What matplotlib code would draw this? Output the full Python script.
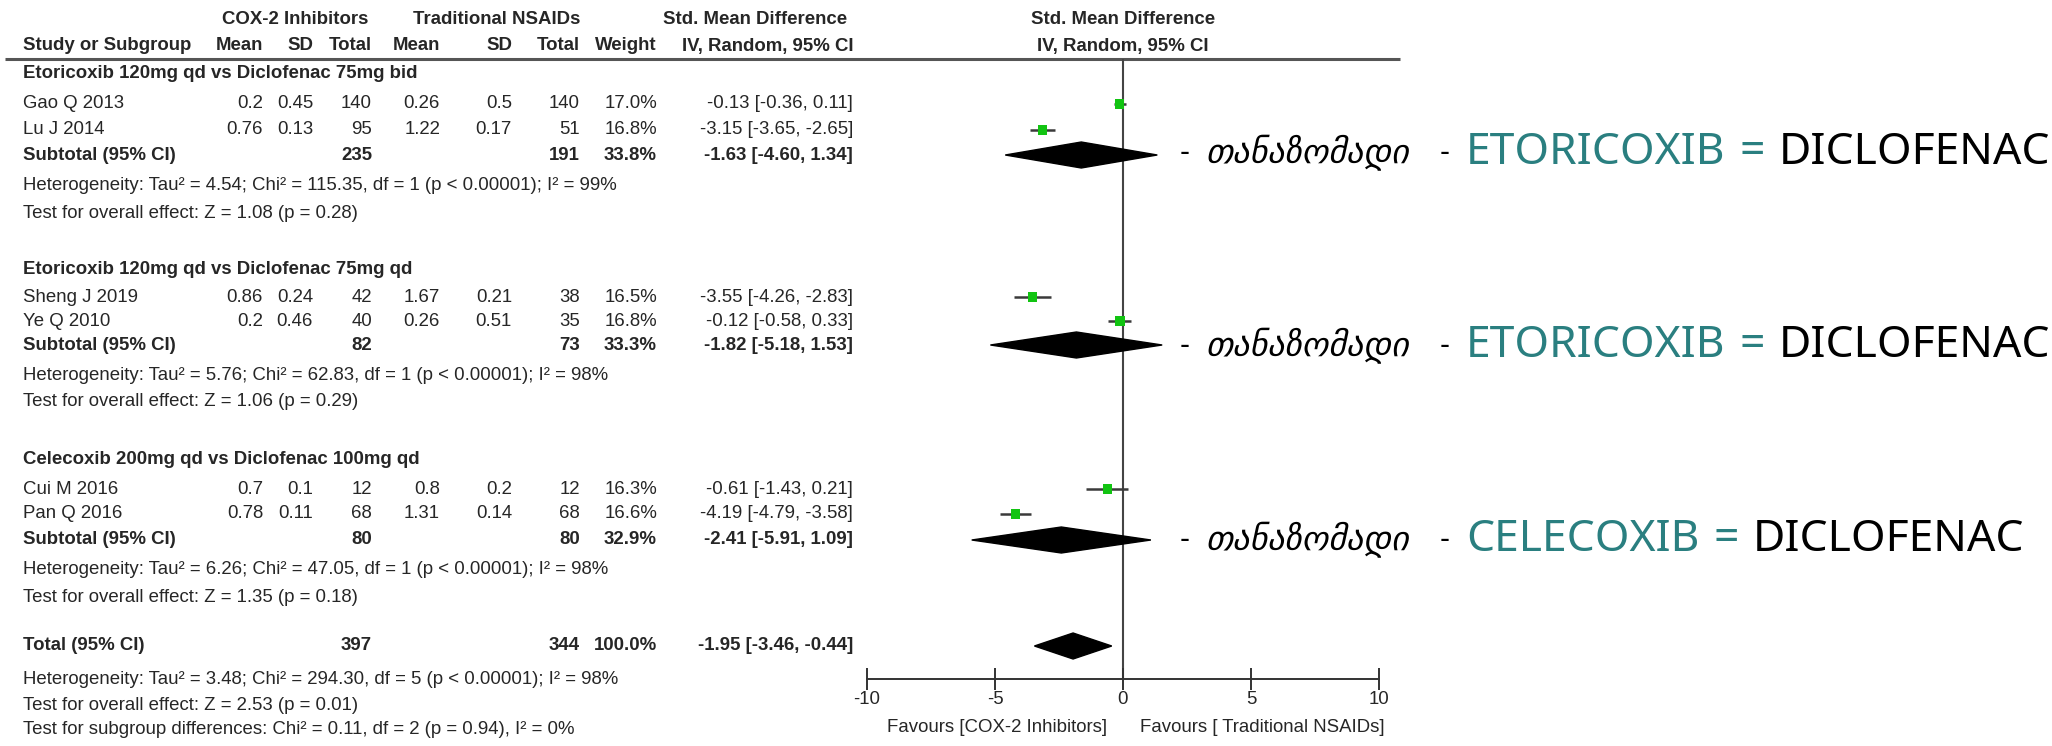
import matplotlib
matplotlib.use("Agg")
import matplotlib.pyplot as plt
from matplotlib import font_manager as fm
from matplotlib.patches import Polygon

# ---------------- data ----------------
study_names = ["Gao Q 2013", "Lu J 2014", "Sheng J 2019", "Ye Q 2010", "Cui M 2016", "Pan Q 2016"]
study_group = [0, 0, 1, 1, 2, 2]
cox_mean = ["0.2", "0.76", "0.86", "0.2", "0.7", "0.78"]
cox_sd = ["0.45", "0.13", "0.24", "0.46", "0.1", "0.11"]
cox_n = [140, 95, 42, 40, 12, 68]
trad_mean = ["0.26", "1.22", "1.67", "0.26", "0.8", "1.31"]
trad_sd = ["0.5", "0.17", "0.21", "0.51", "0.2", "0.14"]
trad_n = [140, 51, 38, 35, 12, 68]
weights = [17.0, 16.8, 16.5, 16.8, 16.3, 16.6]
smd = [-0.13, -3.15, -3.55, -0.12, -0.61, -4.19]
ci_lo = [-0.36, -3.65, -4.26, -0.58, -1.43, -4.79]
ci_hi = [0.11, -2.65, -2.83, 0.33, 0.21, -3.58]

subgroups = ["Etoricoxib 120mg qd vs Diclofenac 75mg bid",
             "Etoricoxib 120mg qd vs Diclofenac 75mg qd",
             "Celecoxib 200mg qd vs Diclofenac 100mg qd"]
sub_cox_n = [235, 82, 80]
sub_trad_n = [191, 73, 80]
sub_weight = [33.8, 33.3, 32.9]
sub_smd = [-1.63, -1.82, -2.41]
sub_lo = [-4.60, -5.18, -5.91]
sub_hi = [1.34, 1.53, 1.09]
sub_het = ["Heterogeneity: Tau\u00b2 = 4.54; Chi\u00b2 = 115.35, df = 1 (p < 0.00001); I\u00b2 = 99%",
           "Heterogeneity: Tau\u00b2 = 5.76; Chi\u00b2 = 62.83, df = 1 (p < 0.00001); I\u00b2 = 98%",
           "Heterogeneity: Tau\u00b2 = 6.26; Chi\u00b2 = 47.05, df = 1 (p < 0.00001); I\u00b2 = 98%"]
sub_test = ["Test for overall effect: Z = 1.08 (p = 0.28)",
            "Test for overall effect: Z = 1.06 (p = 0.29)",
            "Test for overall effect: Z = 1.35 (p = 0.18)"]

total_cox_n = 397
total_trad_n = 344
total_weight = 100.0
total_smd = -1.95
total_lo = -3.46
total_hi = -0.44
total_notes = ["Heterogeneity: Tau\u00b2 = 3.48; Chi\u00b2 = 294.30, df = 5 (p < 0.00001); I\u00b2 = 98%",
               "Test for overall effect: Z = 2.53 (p = 0.01)",
               "Test for subgroup differences: Chi\u00b2 = 0.11, df = 2 (p = 0.94), I\u00b2 = 0%"]

x_ticks = [-10, -5, 0, 5, 10]
favours = ["Favours [COX-2 Inhibitors]", "Favours [ Traditional NSAIDs]"]

annot_word = "\u10d7\u10d0\u10dc\u10d0\u10d6\u10dd\u10db\u10d0\u10d3\u10d8"  # თანაზომადი
annot_drug = ["ETORICOXIB", "ETORICOXIB", "CELECOXIB"]
annot_comp = ["DICLOFENAC", "DICLOFENAC", "DICLOFENAC"]

# ---------------- layout (pixel units) ----------------
W, H = 2052, 746
fig = plt.figure(figsize=(W / 100, H / 100), dpi=100)
fig.patch.set_facecolor("white")

avail = {f.name for f in fm.fontManager.ttflist}
TF = ["Liberation Sans Narrow", "Liberation Sans", "DejaVu Sans"]
TF = [f for f in TF if f in avail] or ["DejaVu Sans"]
FS = 13.4
TC = "#262626"

tab = fig.add_axes([0, 0, 1, 1])
tab.set_xlim(0, W)
tab.set_ylim(H, 0)
tab.axis("off")

def T(x, y, s, ha="left", bold=False, size=FS, color=TC):
    tab.text(x, y, s, ha=ha, va="center", family=TF, size=size,
             weight="bold" if bold else "normal", color=color)

# column right edges
cx = dict(cm=263, csd=313, cn=372, tm=440, tsd=512, tn=580, w=657, ci=853)
LEFT = 23

# rows
y_head1, y_head2, y_line = 20, 46, 59
grp_y = [73, 269, 460]
study_y = [104, 130, 297, 321, 489, 514]
sub_y = [155, 345, 540]
het_y = [186, 375, 569]
test_y = [214, 402, 597]
total_y = 646
total_note_y = [679, 705, 730]
axis_y = 679

# headers
T(295, y_head1, "COX-2 Inhibitors", ha="center", bold=True)
T(497, y_head1, "Traditional NSAIDs", ha="center", bold=True)
T(755, y_head1, "Std. Mean Difference", ha="center", bold=True)
T(1123, y_head1, "Std. Mean Difference", ha="center", bold=True)
T(LEFT, y_head2, "Study or Subgroup", bold=True)
for key, lab in [("cm", "Mean"), ("csd", "SD"), ("cn", "Total"), ("tm", "Mean"),
                 ("tsd", "SD"), ("tn", "Total"), ("w", "Weight")]:
    T(cx[key], y_head2, lab, ha="right", bold=True)
T(cx["ci"], y_head2, "IV, Random, 95% CI", ha="right", bold=True)
T(1123, y_head2, "IV, Random, 95% CI", ha="center", bold=True)
tab.hlines(y_line, 5, 1400, color="#555555", lw=2.2)

# subgroups
for g in range(3):
    T(LEFT, grp_y[g], subgroups[g], bold=True)
    T(LEFT, sub_y[g], "Subtotal (95% CI)", bold=True)
    T(cx["cn"], sub_y[g], str(sub_cox_n[g]), ha="right", bold=True)
    T(cx["tn"], sub_y[g], str(sub_trad_n[g]), ha="right", bold=True)
    T(cx["w"], sub_y[g], f"{sub_weight[g]:.1f}%", ha="right", bold=True)
    T(cx["ci"], sub_y[g], f"{sub_smd[g]:.2f} [{sub_lo[g]:.2f}, {sub_hi[g]:.2f}]", ha="right", bold=True)
    T(LEFT, het_y[g], sub_het[g])
    T(LEFT, test_y[g], sub_test[g])

for i in range(len(study_names)):
    y = study_y[i]
    T(LEFT, y, study_names[i])
    T(cx["cm"], y, cox_mean[i], ha="right")
    T(cx["csd"], y, cox_sd[i], ha="right")
    T(cx["cn"], y, str(cox_n[i]), ha="right")
    T(cx["tm"], y, trad_mean[i], ha="right")
    T(cx["tsd"], y, trad_sd[i], ha="right")
    T(cx["tn"], y, str(trad_n[i]), ha="right")
    T(cx["w"], y, f"{weights[i]:.1f}%", ha="right")
    T(cx["ci"], y, f"{smd[i]:.2f} [{ci_lo[i]:.2f}, {ci_hi[i]:.2f}]", ha="right")

T(LEFT, total_y, "Total (95% CI)", bold=True)
T(cx["cn"], total_y, str(total_cox_n), ha="right", bold=True)
T(cx["tn"], total_y, str(total_trad_n), ha="right", bold=True)
T(cx["w"], total_y, f"{total_weight:.1f}%", ha="right", bold=True)
T(cx["ci"], total_y, f"{total_smd:.2f} [{total_lo:.2f}, {total_hi:.2f}]", ha="right", bold=True)
for yy, s in zip(total_note_y, total_notes):
    T(LEFT, yy, s)

# ---------------- forest plot ----------------
X0, X1 = 867, 1379
fa = fig.add_axes([X0 / W, 0, (X1 - X0) / W, 1])
fa.set_xlim(-10, 10)
fa.set_ylim(H, 0)
fa.patch.set_alpha(0)
for s in ["left", "right", "top"]:
    fa.spines[s].set_visible(False)
fa.spines["bottom"].set_position(("data", axis_y))
fa.spines["bottom"].set_bounds(-10, 10)
fa.spines["bottom"].set_color("#333333")
fa.spines["bottom"].set_linewidth(1.4)
fa.set_yticks([])
fa.set_xticks(x_ticks)
fa.set_xticklabels([str(t) for t in x_ticks], family=TF, size=FS, color=TC)
fa.tick_params(axis="x", direction="inout", length=16, width=1.4, color="#333333", pad=1)

fa.vlines(0, y_line, axis_y, color="#444444", lw=1.5, zorder=1)

for i in range(len(study_names)):
    fa.hlines(study_y[i], ci_lo[i], ci_hi[i], color="#3a3a3a", lw=1.8, zorder=2)
fa.scatter(smd, study_y, marker="s", s=[w * 2.6 for w in weights],
           color="#12c412", edgecolors="none", zorder=3)

for g in range(3):
    fa.add_patch(Polygon([(sub_lo[g], sub_y[g]), (sub_smd[g], sub_y[g] - 13),
                          (sub_hi[g], sub_y[g]), (sub_smd[g], sub_y[g] + 13)],
                         closed=True, color="black", zorder=3))
fa.add_patch(Polygon([(total_lo, total_y), (total_smd, total_y - 13),
                      (total_hi, total_y), (total_smd, total_y + 13)],
                     closed=True, color="black", zorder=3))

T(997, 727, favours[0], ha="center")
T(1262, 727, favours[1], ha="center")

# ---------------- annotations ----------------
annot_y = [153, 346, 540]
renderer = fig.canvas.get_renderer()
TEAL = "#2a7f80"
for g in range(3):
    y = annot_y[g]
    tab.text(1180, y, "-", ha="left", va="center", family=["DejaVu Sans"], size=20, color="black")
    tab.text(1206, y, annot_word, ha="left", va="center", family=["DejaVu Sans"],
             style="italic", size=24.5, color="black")
    tab.text(1440, y, "-", ha="left", va="center", family=["DejaVu Sans"], size=20, color="black")
    t1 = tab.text(1466, y, annot_drug[g], ha="left", va="center", family=["Noto Sans", "DejaVu Sans"],
                  size=32, color=TEAL)
    bb = t1.get_window_extent(renderer)
    t2 = tab.text(bb.x1 + 14, y, "=", ha="left", va="center", family=["Noto Sans", "DejaVu Sans"],
                  size=32, color=TEAL)
    bb2 = t2.get_window_extent(renderer)
    tab.text(bb2.x1 + 14, y, annot_comp[g], ha="left", va="center",
             family=["Noto Sans", "DejaVu Sans"], size=32, color="black")

fig.savefig("out.png", dpi=100, facecolor="white")
